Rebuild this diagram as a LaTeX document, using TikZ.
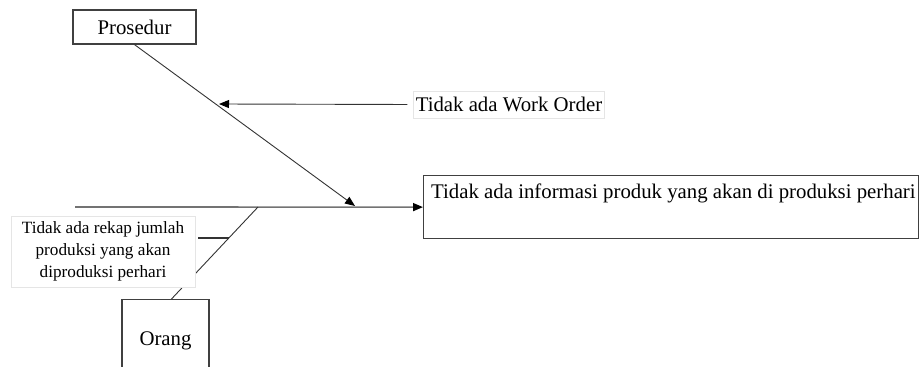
\documentclass[tikz,border=0pt]{standalone}
\usepackage{fontspec}
\setmainfont{Liberation Serif}
\usetikzlibrary{arrows.meta,calc}
\begin{document}
\begin{tikzpicture}[x=1pt,y=-1pt,
  box/.style={draw=black!75, line width=1.2pt, fill=white, inner sep=0pt},
  lbl/.style={draw=black!10, line width=0.8pt, fill=white, inner sep=2pt},
  bone/.style={draw=black!80, line width=0.9pt},
  spine/.style={draw=black!55, line width=1.6pt},
  tip/.style={-{Triangle[length=10pt,width=8pt,color=black]}},
  big/.style={font=\fontsize{20.8}{24}\selectfont},
  small/.style={font=\fontsize{17.2}{22}\selectfont}
]
\useasboundingbox (0,0) rectangle (919,367);
% nodes
\node[box, big, minimum width=123pt, minimum height=34pt] (pros) at (134.5,27) {Prosedur};
\node[box, anchor=north west, minimum width=495pt, minimum height=63pt] (eff) at (423,175) {};
\node[big, anchor=base west, inner sep=0pt] (efft) at ($(eff.north west)+(8,23)$) {Tidak ada informasi produk yang akan di produksi perhari};
\node[lbl, big, minimum width=190pt, minimum height=27pt] (wo) at (509,104.5) {Tidak ada Work Order};
\node[box, big, anchor=north, minimum width=87pt, minimum height=82pt] (orang) at (165.5,299) {Orang};
\coordinate (sp) at (75,207);
\coordinate (j1) at (355,206);
\coordinate (j2) at (219,104);
\coordinate (j3) at (258,207);
\coordinate (j5) at (228.5,238);
% spine and bones
\draw[spine, tip] (sp) -- (eff.west);
\draw[bone, tip] (pros.south) -- (j1);
\draw[bone, tip, shorten <=6pt] (wo.west) -- (j2);
\draw[bone] (j3) -- ($(orang.north)+(6,0)$);
\node[lbl, small, align=center, minimum width=184pt, minimum height=71pt] (rek) at (103,251.5)
  {Tidak ada rekap jumlah\\produksi yang akan\\diproduksi perhari};
\draw[bone, line width=1.3pt] ($(rek.east)+(3,-13.5)$) -- (j5);
\end{tikzpicture}
\end{document}
